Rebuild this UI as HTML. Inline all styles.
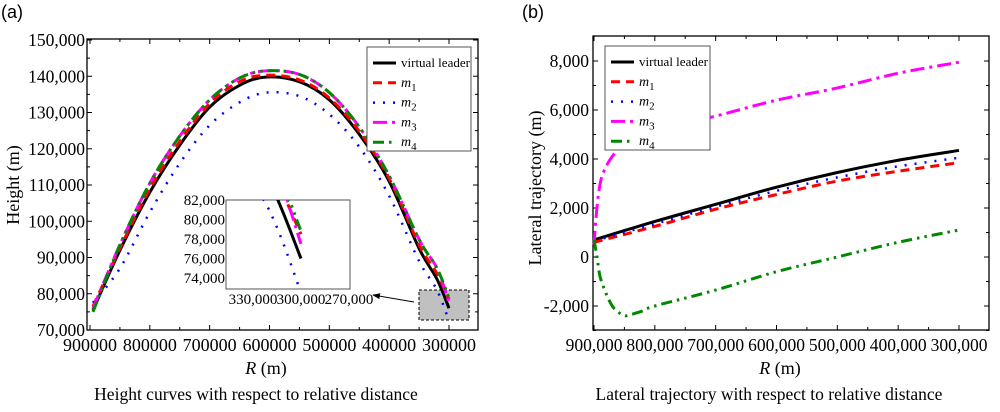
<!DOCTYPE html>
<html><head><meta charset="utf-8"><style>
body{margin:0;background:#fff;width:1000px;height:407px;overflow:hidden}
svg text{font-family:"Liberation Serif",serif}
</style></head><body>
<svg id="s" width="1000" height="407"></svg>
<script>
// Panel (a) data: R in thousands of m, height in thousands of m
const aR = [895,850,800,750,700,650,605,550,500,450,400,350,320,300];
const aLeader = [75.5,92,108,121,131.5,137.5,139.8,138.5,133.5,124,111,92.5,84,76];
const aM1 = [76.5,92.5,109,122,132.5,138.5,140.3,139,134,124.8,111.8,93.5,85.5,78.5];
const aM2 = [77.5,87,102.5,116,126.5,132.8,135.5,134.5,129.5,120.5,107,89,81,72.5];
const aM3 = [76,93.5,110.5,123.5,133.5,139.5,141.5,140.5,135.5,126,112.5,95,87,77.5];
const aM4 = [75,93.5,110.5,123.5,133.5,139.5,141.5,140.5,135.5,126,112.5,95,87,78.8];
const aXTicks = [900000,800000,700000,600000,500000,400000,300000];
const aYTicks = [70000,80000,90000,100000,110000,120000,130000,140000,150000];
const insetXTicks = [330000,300000,270000];
const insetYTicks = [74000,76000,78000,80000,82000];
// Panel (b) data
const bR = [900,800,700,600,500,400,300];
const bLeader = [700,1450,2150,2850,3450,3950,4350];
const bM1 = [600,1250,1950,2550,3100,3500,3850];
const bM2 = [650,1350,2050,2700,3250,3700,4050];
const bR3 = [900,897,893,888,880,870,860,850,830,800,750,700,600,500,400,300];
const bM3 = [500,1500,2500,3200,3700,4100,4400,4600,4900,5150,5450,5750,6400,6900,7500,7950];
const bR4 = [900,895,890,880,870,860,850,840,820,800,700,600,500,400,300];
const bM4 = [700,0,-800,-1500,-2000,-2250,-2400,-2350,-2200,-2000,-1350,-600,0,600,1100];
const bXTicks = [900000,800000,700000,600000,500000,400000,300000];
const bYTicks = [-2000,0,2000,4000,6000,8000];

const NS="http://www.w3.org/2000/svg";
const svg=document.getElementById('s');
function el(tag,attrs,parent,txt){const e=document.createElementNS(NS,tag);for(const k in attrs)e.setAttribute(k,attrs[k]);if(txt!==undefined)e.textContent=txt;(parent||svg).appendChild(e);return e;}
function fmt(v,c){return c?v.toLocaleString('en-US'):String(v);}
const styles=[
 {c:'#000',w:3,d:''},
 {c:'#f00',w:3,d:'9 6'},
 {c:'#00f',w:2.5,d:'2 8'},
 {c:'#f0f',w:3,d:'14 5 3 5'},
 {c:'#080',w:3,d:'11 5 2.5 5 2.5 5'}];
const names=['virtual-leader','m1','m2','m3','m4'];

function smooth(pts){
  let d='M'+pts[0][0]+','+pts[0][1];
  for(let i=0;i<pts.length-1;i++){
    const p0=pts[i-1]||pts[i],p1=pts[i],p2=pts[i+1],p3=pts[i+2]||p2;
    const c1=[p1[0]+(p2[0]-p0[0])/6,p1[1]+(p2[1]-p0[1])/6];
    const c2=[p2[0]-(p3[0]-p1[0])/6,p2[1]-(p3[1]-p1[1])/6];
    d+=' C'+c1[0]+','+c1[1]+' '+c2[0]+','+c2[1]+' '+p2[0]+','+p2[1];
  }
  return d;
}
function line(xs,ys,sx,sy,st,name,parent){
  const p=el('path',{d:smooth(xs.map((x,i)=>[sx(x),sy(ys[i])])),fill:'none',stroke:st.c,'stroke-width':st.w,'stroke-dasharray':st.d,'stroke-linejoin':'round'},parent);
  
  
}
function legend(x,y,w,h){
  const g=el('g',{});
  
  
  el('rect',{x:x,y:y,width:w,height:h,fill:'#fff',stroke:'#555','stroke-width':1},g);
  const labels=['virtual leader','m1','m2','m3','m4'];
  labels.forEach((l,i)=>{
    const yy=y+16+i*19.8;
    const ln=el('line',{x1:x+6,x2:x+29,y1:yy,y2:yy,stroke:styles[i].c,'stroke-width':styles[i].w,'stroke-dasharray':styles[i].d},g);
    
    
    const t=el('text',{x:i?x+34:x+34,y:yy+4,'font-size':i?14:13},g);
    
    
    if(i){el('tspan',{'font-style':'italic'},t,'m');el('tspan',{'font-size':11,dy:4},t,String(i));}
    else t.textContent=l;
  });
}

// ---------- Panel (a)
const A={l:87,r:478,t:39,b:330};
const ax=v=>90+(900000-v*1000)/600000*359;
const axr=v=>90+(900000-v)/600000*359;
const ay=v=>330-(v*1000-70000)/80000*290;
const ayr=v=>330-(v-70000)/80000*290;
el('text',{x:1,y:18,'font-size':18,style:'font-family:"Liberation Sans",sans-serif'},svg,'(a)');
const fa=el('rect',{x:A.l,y:A.t,width:A.r-A.l,height:A.b-A.t,fill:'none',stroke:'#000','stroke-width':1.3});

aXTicks.forEach(v=>{const x=axr(v);
  el('line',{x1:x,x2:x,y1:A.b,y2:A.b-5,stroke:'#000'});el('line',{x1:x,x2:x,y1:A.t,y2:A.t+5,stroke:'#000'});
  const hx=axr(v-50000); if(hx<A.r){el('line',{x1:hx,x2:hx,y1:A.b,y2:A.b-3,stroke:'#000'});el('line',{x1:hx,x2:hx,y1:A.t,y2:A.t+3,stroke:'#000'});}
  const t=el('text',{x:x,y:351,'font-size':18,'text-anchor':'middle'},svg,fmt(v,false));
  });
aYTicks.forEach(v=>{const y=ayr(v);
  el('line',{x1:A.l,x2:A.l+5,y1:y,y2:y,stroke:'#000'});el('line',{x1:A.r,x2:A.r-5,y1:y,y2:y,stroke:'#000'});
  if(v<150000){const hy=ayr(v+5000);el('line',{x1:A.l,x2:A.l+3,y1:hy,y2:hy,stroke:'#000'});el('line',{x1:A.r,x2:A.r-3,y1:hy,y2:hy,stroke:'#000'});}
  const t=el('text',{x:85,y:y+6,'font-size':17.5,'text-anchor':'end'},svg,fmt(v,true));
  });
let t=el('text',{x:0,y:0,'font-size':18,'text-anchor':'middle',transform:'translate(19,185) rotate(-90)'},svg,'Height (m)');

t=el('text',{x:266,y:374,'font-size':18,'text-anchor':'middle'});el('tspan',{'font-style':'italic'},t,'R');el('tspan',{},t,' (m)');

t=el('text',{x:256,y:400,'font-size':17.5,'text-anchor':'middle'},svg,'Height curves with respect to relative distance');

// zoom box
const zb=el('rect',{x:419,y:290,width:50,height:30,fill:'#c0c0c0',stroke:'#000','stroke-dasharray':'3 2'});

[aLeader,aM1,aM2,aM3,aM4].forEach((d,i)=>line(aR,d,ax,ay,styles[i],'series-a-'+names[i]));
el('defs',{}).innerHTML='<marker id="ah" markerWidth="8" markerHeight="6" refX="7" refY="3" orient="auto"><path d="M0,0L8,3L0,6z" fill="#000"/></marker><clipPath id="ic"><rect x="226" y="200" width="124" height="89"/></clipPath>';
el('line',{x1:414,y1:302,x2:373,y2:295,stroke:'#000','marker-end':'url(#ah)'});
// inset
const ix=v=>301+(300000-v*1000)/30000*48;
const ixr=v=>301+(300000-v)/30000*48;
const iy=v=>200+(82000-v*1000)/2000*19.5;
const iyr=v=>200+(82000-v)/2000*19.5;
const ir=el('rect',{x:226,y:200,width:124,height:89,fill:'#fff',stroke:'#555'});

const ig=el('g',{'clip-path':'url(#ic)'});

[aLeader,aM1,aM2,aM3,aM4].forEach((d,i)=>line(aR,d,ix,iy,styles[i],'inset-series-'+names[i],ig));
insetXTicks.forEach(v=>{const tt=el('text',{x:ixr(v),y:304,'font-size':15,'text-anchor':'middle'},svg,fmt(v,true));});
insetYTicks.forEach(v=>{const tt=el('text',{x:225,y:iyr(v)+5,'font-size':15,'text-anchor':'end'},svg,fmt(v,true));});
legend(367,47,104,104);

// ---------- Panel (b)
const B={l:593,r:989,t:36,b:330};
const bx=v=>594+(900000-v*1000)/600000*365;
const bxr=v=>594+(900000-v)/600000*365;
const by=v=>257-v/2000*49;
el('text',{x:522,y:18,'font-size':18,style:'font-family:"Liberation Sans",sans-serif'},svg,'(b)');
const fb=el('rect',{x:B.l,y:B.t,width:B.r-B.l,height:B.b-B.t,fill:'none',stroke:'#000','stroke-width':1.3});

bXTicks.forEach(v=>{const x=bxr(v);
  el('line',{x1:x,x2:x,y1:B.b,y2:B.b-5,stroke:'#000'});el('line',{x1:x,x2:x,y1:B.t,y2:B.t+5,stroke:'#000'});
  const hx=bxr(v-50000); if(hx<B.r){el('line',{x1:hx,x2:hx,y1:B.b,y2:B.b-3,stroke:'#000'});el('line',{x1:hx,x2:hx,y1:B.t,y2:B.t+3,stroke:'#000'});}
  const tt=el('text',{x:x,y:351,'font-size':17.5,'text-anchor':'middle'},svg,fmt(v,true));
  });
bYTicks.forEach(v=>{const y=by(v);
  el('line',{x1:B.l,x2:B.l+5,y1:y,y2:y,stroke:'#000'});el('line',{x1:B.r,x2:B.r-5,y1:y,y2:y,stroke:'#000'});
  const hy=by(v-1000);el('line',{x1:B.l,x2:B.l+3,y1:hy,y2:hy,stroke:'#000'});el('line',{x1:B.r,x2:B.r-3,y1:hy,y2:hy,stroke:'#000'});
  const tt=el('text',{x:589,y:y+6,'font-size':17.5,'text-anchor':'end'},svg,fmt(v,true));
  });
t=el('text',{x:0,y:0,'font-size':18,'text-anchor':'middle',transform:'translate(541,188) rotate(-90)'},svg,'Lateral trajectory (m)');

t=el('text',{x:780,y:374,'font-size':18,'text-anchor':'middle'});el('tspan',{'font-style':'italic'},t,'R');el('tspan',{},t,' (m)');

t=el('text',{x:769,y:400,'font-size':17.5,'text-anchor':'middle'},svg,'Lateral trajectory with respect to relative distance');

line(bR,bLeader,bx,by,styles[0],'series-b-virtual-leader');
line(bR,bM1,bx,by,styles[1],'series-b-m1');
line(bR,bM2,bx,by,styles[2],'series-b-m2');
line(bR3,bM3,bx,by,styles[3],'series-b-m3');
line(bR4,bM4,bx,by,styles[4],'series-b-m4');
legend(605,46,105,104);
</script>
</body></html>
